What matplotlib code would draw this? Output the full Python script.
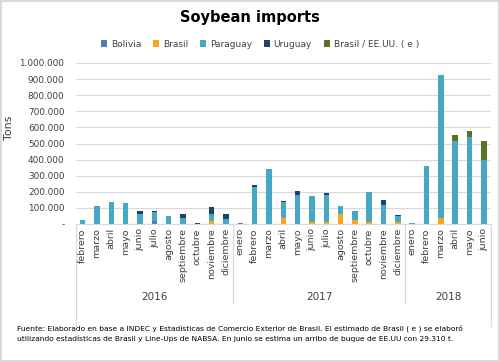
import numpy as np
import matplotlib.pyplot as plt
import matplotlib.transforms as mtransforms

# months: feb 2016 .. jun 2018
months = ['febrero', 'marzo', 'abril', 'mayo', 'junio', 'julio', 'agosto', 'septiembre',
          'octubre', 'noviembre', 'diciembre',
          'enero', 'febrero', 'marzo', 'abril', 'mayo', 'junio', 'julio', 'agosto',
          'septiembre', 'octubre', 'noviembre', 'diciembre',
          'enero', 'febrero', 'marzo', 'abril', 'mayo', 'junio']
years = ['2016', '2017', '2018']
year_counts = [11, 12, 6]

bolivia = [0, 0, 0, 0, 0, 18000, 0, 0, 2000, 0, 0,
           5000, 0, 0, 0, 0, 0, 0, 0, 0, 0, 0, 0,
           0, 0, 0, 0, 0, 0]
brasil = [0, 0, 0, 0, 0, 0, 0, 0, 0, 20000, 0,
          0, 0, 0, 35000, 3000, 14000, 14000, 64000, 27000, 14000, 0, 10000,
          0, 0, 35000, 0, 0, 0]
paraguay = [25000, 112000, 137000, 130000, 63000, 59000, 50000, 39000, 0, 41000, 31000,
            0, 228000, 342000, 105000, 175000, 162000, 167000, 50000, 54000, 185000, 120000, 42000,
            4000, 362000, 892000, 514000, 542000, 398000]
uruguay = [0, 0, 0, 0, 16000, 6000, 0, 23000, 6000, 45000, 31000,
           0, 16000, 0, 5000, 29000, 0, 14000, 0, 0, 0, 29000, 6000,
           0, 0, 0, 0, 0, 0]
brasil_eeuu = [0] * 26 + [41000, 33000, 120000]

series = [('Bolivia', bolivia, '#4a7ebb'),
          ('Brasil', brasil, '#fba51d'),
          ('Paraguay', paraguay, '#45a9c5'),
          ('Uruguay', uruguay, '#243f6b'),
          ('Brasil / EE.UU. ( e )', brasil_eeuu, '#5b7128')]

fig = plt.figure(figsize=(5, 3.62), dpi=100)
fig.patch.set_edgecolor('#d9d9d9')
fig.patch.set_linewidth(1.5)
ax = fig.add_axes([0.151, 0.381, 0.831, 0.445])

x = np.arange(len(months))
bottom = np.zeros(len(months))
for name, vals, col in series:
    vals = np.array(vals, dtype=float)
    ax.bar(x, vals, 0.38, bottom=bottom, color=col, label=name, linewidth=0)
    bottom += vals

ax.set_xlim(-0.5, len(months) - 0.5)
ax.set_ylim(0, 1000000)
yt = np.arange(0, 1000001, 100000)
ax.set_yticks(yt)
ax.set_yticklabels(['-'] + ['{:,}'.format(v).replace(',', '.') for v in yt[1:]],
                   fontsize=6.4, color='#404040')
ax.yaxis.grid(True, color='#d9d9d9', linewidth=0.9)
ax.set_axisbelow(True)
ax.tick_params(axis='y', length=0, pad=8)
ax.set_ylabel('Tons', fontsize=8, color='#404040')
ax.yaxis.set_label_coords(-0.148, 0.6)

ax.set_xticks(x)
ax.set_xticklabels(months, rotation=90, fontsize=6.8, color='#404040', va='top')
ax.tick_params(axis='x', length=0, pad=3)

for s in ['top', 'right', 'left']:
    ax.spines[s].set_visible(False)
ax.spines['bottom'].set_color('#d9d9d9')

# multi-level category axis
trans = mtransforms.blended_transform_factory(ax.transData, ax.transAxes)
edges = np.concatenate([[0], np.cumsum(year_counts)]) - 0.5
for i, e in enumerate(edges):
    outer = i == 0 or i == len(edges) - 1
    ax.plot([e, e], [0, -0.63 if outer else -0.49], transform=trans,
            color='#d9d9d9', linewidth=0.9, clip_on=False)
for i, yr in enumerate(years):
    ax.text((edges[i] + edges[i + 1]) / 2, -0.45, yr, transform=trans,
            ha='center', va='center', fontsize=7.5, color='#404040')

fig.text(0.5, 0.953, 'Soybean imports', ha='center', va='center',
         fontsize=10.5, fontweight='bold', color='black')
fig.legend(loc='center', bbox_to_anchor=(0.52, 0.878), ncol=5, frameon=False,
           fontsize=6.5, handlelength=0.7, handleheight=0.7, handletextpad=0.4,
           columnspacing=1.3, labelcolor='#404040')

fig.text(0.034, 0.08, 'Fuente: Elaborado en base a INDEC y Estadísticas de Comercio Exterior de Brasil. '
         'El estimado de Brasil ( e ) se elaboró\nutilizando estadísticas de Brasil y Line-Ups de NABSA. '
         'En junio se estima un arribo de buque de EE.UU con 29.310 t.',
         fontsize=5.4, va='center', ha='left', linespacing=1.6, color='black')

fig.savefig('out.png', dpi=100)
